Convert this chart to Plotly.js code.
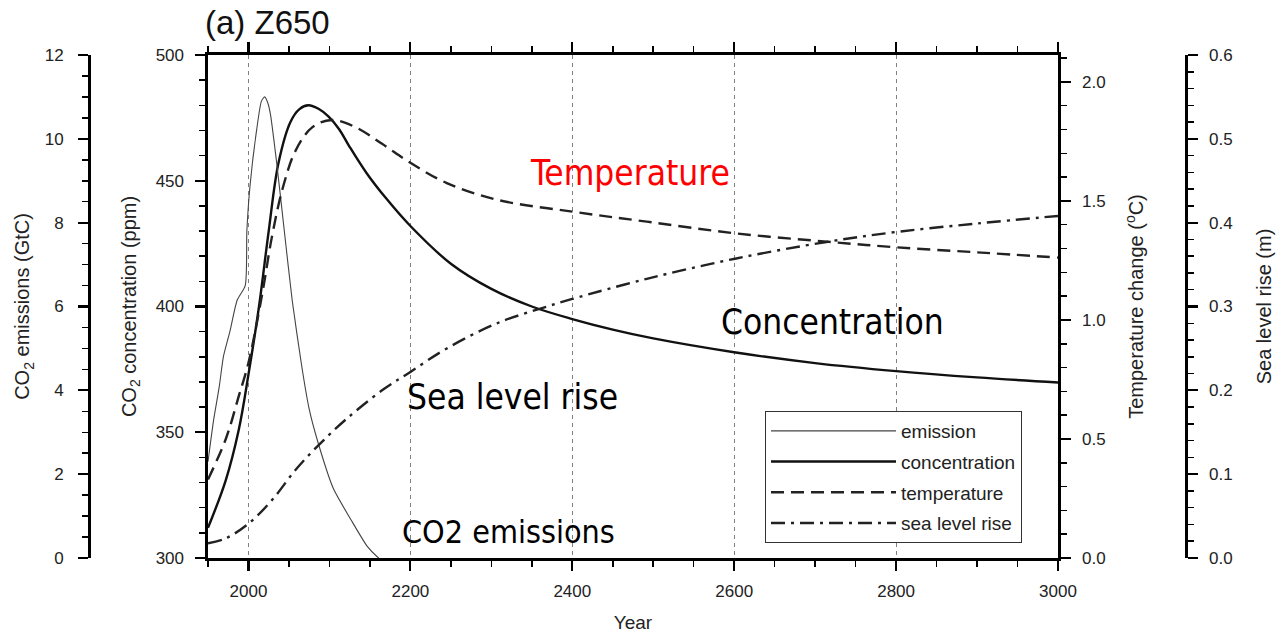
<!DOCTYPE html>
<html>
<head>
<meta charset="utf-8">
<script src="https://cdn.plot.ly/plotly-3.0.1.min.js"></script>
<style>
  html, body { margin: 0; padding: 0; background: #fff; }
  #chart { width: 1280px; height: 634px; }
</style>
</head>
<body>
<div id="chart"></div>
<script>
// CO2 emissions (GtC)
const emisYears = [1950, 1957, 1964, 1969, 1977, 1986, 1996, 1998, 2002, 2010, 2016, 2020, 2024, 2027, 2035, 2044, 2054, 2066, 2075, 2086, 2105, 2127, 2147, 2159, 2161];
const emisValues = [2.3, 3.3, 4.1, 4.8, 5.4, 6.15, 6.5, 7.8, 8.9, 10.2, 10.9, 11.0, 10.85, 10.6, 9.4, 7.85, 6.15, 4.55, 3.55, 2.75, 1.65, 0.9, 0.27, 0.03, 0];

// CO2 concentration (ppm)
const concYears = [1950, 1972, 1988, 2000, 2013, 2025, 2037, 2052, 2063, 2074, 2087, 2099, 2112, 2124, 2146, 2170, 2200, 2250, 2300, 2350, 2400, 2450, 2500, 2600, 2700, 2800, 2900, 3000];
const concValues = [312, 331, 351, 373, 400, 430, 457, 473.5, 478.5, 480, 478.5, 475.5, 470.5, 464, 453, 443, 432, 417, 407, 400, 395, 390.8, 387.3, 381.8, 377.5, 374.3, 371.8, 369.8];

// Temperature change (deg C)
const tempYears = [1950, 1972, 1988, 2000, 2017, 2029, 2042, 2058, 2079, 2103, 2132, 2165, 2200, 2245, 2307, 2400, 2492, 2601, 2714, 2801, 2900, 3000];
const tempValues = [0.33, 0.50, 0.68, 0.82, 1.11, 1.35, 1.55, 1.71, 1.81, 1.84, 1.81, 1.74, 1.66, 1.575, 1.505, 1.455, 1.413, 1.364, 1.329, 1.305, 1.284, 1.262];

// Sea level rise (m)
const seaYears = [1950, 1972, 2000, 2029, 2058, 2087, 2120, 2165, 2200, 2245, 2307, 2369, 2400, 2492, 2601, 2714, 2801, 2900, 3000];
const seaValues = [0.0175, 0.0235, 0.041, 0.069, 0.105, 0.135, 0.165, 0.200, 0.222, 0.250, 0.280, 0.300, 0.309, 0.333, 0.357, 0.377, 0.389, 0.399, 0.408];

const labelFont = 'Liberation Sans, Arial, Helvetica, sans-serif';
const noteFont = 'DejaVu Sans Condensed, DejaVu Sans, sans-serif';

const traces = [
  { name: 'emission', x: emisYears, y: emisValues, yaxis: 'y2', type: 'scatter', mode: 'lines',
    line: { color: '#444', width: 1.1, shape: 'spline', smoothing: 0.6 }, legendgroup: 'a' },
  { name: 'concentration', x: concYears, y: concValues, yaxis: 'y', type: 'scatter', mode: 'lines',
    line: { color: '#111', width: 2.4, shape: 'spline', smoothing: 1 }, legendgroup: 'b' },
  { name: 'temperature', x: tempYears, y: tempValues, yaxis: 'y3', type: 'scatter', mode: 'lines',
    line: { color: '#222', width: 2.4, shape: 'spline', smoothing: 1, dash: '13px,7px' }, legendgroup: 'c' },
  { name: 'sea level rise', x: seaYears, y: seaValues, yaxis: 'y4', type: 'scatter', mode: 'lines',
    line: { color: '#222', width: 2.4, shape: 'spline', smoothing: 1, dash: '14px,6px,3px,6px' }, legendgroup: 'd' }
];

const W = 1280, L = 208, R = 1058;
const tickFont = { family: labelFont, size: 17, color: '#222' };
const titleFont = { family: labelFont, size: 20, color: '#222' };
const minorTicks = (d) => ({ dtick: d, ticklen: 6, tickwidth: 1.5, tickcolor: '#000', showgrid: false });
const yCommon = {
  ticks: 'outside', ticklen: 10, tickwidth: 2.2, tickcolor: '#000',
  showline: true, linewidth: 2.6, linecolor: '#000',
  showgrid: false, zeroline: false, fixedrange: true,
  tickfont: tickFont, ticklabelstandoff: 8
};

// annotation position inside the plotting frame (fractions of the frame)
const frameX = (f) => L / W + f * (R - L) / W;

const layout = {
  width: 1280, height: 634,
  margin: { l: 0, r: 0, t: 55, b: 76 },
  paper_bgcolor: '#fff', plot_bgcolor: '#fff',
  showlegend: true,
  title: { text: '(a) Z650', x: 205 / W, xanchor: 'left', xref: 'container',
           y: 1 - 22 / 634, yanchor: 'middle', yref: 'container',
           font: { family: labelFont, size: 33, color: '#111' } },
  xaxis: {
    domain: [L / W, R / W], range: [1950, 3000],
    tick0: 2000, dtick: 200, ticks: 'outside', ticklen: 10, tickwidth: 2.2, tickcolor: '#000',
    minor: minorTicks(50),
    showline: true, linewidth: 2.6, linecolor: '#000', mirror: 'ticks',
    showgrid: true, griddash: '4px,4px', gridcolor: '#808080', gridwidth: 1, zeroline: false,
    tickfont: tickFont, ticklabelstandoff: 6,
    title: { text: 'Year', font: { family: labelFont, size: 19, color: '#222' }, standoff: 16 },
    fixedrange: true
  },
  yaxis: Object.assign({}, yCommon, {
    anchor: 'x', side: 'left', range: [300, 500], dtick: 50, minor: minorTicks(10),
    title: { text: 'CO<sub>2</sub> concentration (ppm)', font: titleFont, standoff: 14 }
  }),
  yaxis2: Object.assign({}, yCommon, {
    overlaying: 'y', anchor: 'free', position: 89 / W, side: 'left', range: [0, 12], dtick: 2,
    minor: minorTicks(0.5), ticklabelstandoff: 11,
    title: { text: 'CO<sub>2</sub> emissions (GtC)', font: titleFont, standoff: 8 }
  }),
  yaxis3: Object.assign({}, yCommon, {
    overlaying: 'y', anchor: 'x', side: 'right', range: [0, 2.113], dtick: 0.5, tickformat: '.1f',
    minor: minorTicks(0.1),
    title: { text: 'Temperature change (<sup>o</sup>C)', font: titleFont, standoff: 25 }
  }),
  yaxis4: Object.assign({}, yCommon, {
    overlaying: 'y', anchor: 'free', position: 1186 / W, side: 'right', range: [0, 0.6], dtick: 0.1, tickformat: '.1f',
    minor: minorTicks(0.02),
    title: { text: 'Sea level rise (m)', font: titleFont, standoff: 25 }
  }),
  legend: {
    x: 765 / W, y: (558 - 411) / 503, xanchor: 'left', yanchor: 'top',
    bgcolor: '#fff', bordercolor: '#333', borderwidth: 1,
    font: { family: labelFont, size: 19, color: '#222' },
    itemwidth: 125, traceorder: 'grouped', tracegroupgap: 3,
    entrywidth: 272, entrywidthmode: 'pixels'
  },
  annotations: [
    { text: 'Temperature', xref: 'paper', yref: 'paper', x: frameX(0.496), y: 0.765,
      xanchor: 'center', yanchor: 'middle',
      showarrow: false, font: { family: noteFont, size: 35, color: '#ff0000' } },
    { text: 'Concentration', xref: 'paper', yref: 'paper', x: frameX(0.735), y: 0.469,
      xanchor: 'center', yanchor: 'middle',
      showarrow: false, font: { family: noteFont, size: 35, color: '#000' } },
    { text: 'Sea level rise', xref: 'paper', yref: 'paper', x: frameX(0.358), y: 0.320,
      xanchor: 'center', yanchor: 'middle',
      showarrow: false, font: { family: noteFont, size: 35, color: '#000' } },
    { text: 'CO2 emissions', xref: 'paper', yref: 'paper', x: frameX(0.353), y: 0.052,
      xanchor: 'center', yanchor: 'middle',
      showarrow: false, font: { family: noteFont, size: 32, color: '#000' } }
  ]
};

Plotly.newPlot('chart', traces, layout, { staticPlot: true, displayModeBar: false });
</script>
</body>
</html>
